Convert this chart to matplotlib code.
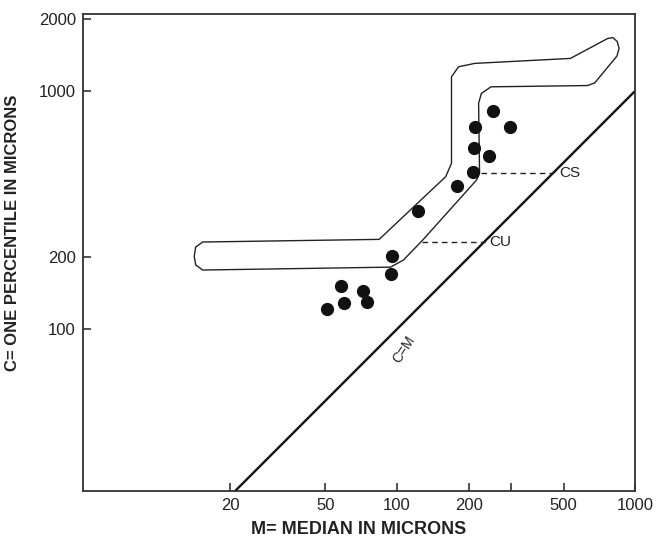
import matplotlib
matplotlib.use("Agg")
import matplotlib.pyplot as plt
from matplotlib.patches import Polygon

plt.rcParams['font.family'] = ['Liberation Sans', 'DejaVu Sans']

# samples: M = median, C = one percentile (microns)
median = [252, 212, 297, 211, 243, 208, 179, 122, 95, 94, 58, 72, 60, 75, 51]
c_pct = [820, 707, 703, 574, 534, 456, 399, 313, 202, 171, 151, 145, 129, 130, 122]

# outline of the field drawn around the samples
env_m = [15.3, 84.2, 160, 169.3, 169.3, 181.3, 212, 534, 766, 806, 840, 855, 837,
         676, 631, 248, 226, 220, 222, 216, 128.5, 106.5, 93.9, 15.3, 14.3, 14.1, 14.3]
env_c = [232, 238, 436, 496, 1145, 1261, 1303, 1367, 1658, 1671, 1608, 1506, 1398,
         1080, 1052, 1039, 975, 886, 453, 423, 237, 195, 182, 177, 186, 202, 221]

# dashed limits CU and CS (C value, M where dash starts)
cu_c, cu_m0 = 233, 127
cs_c, cs_m0 = 453, 226

xticks = [20, 50, 100, 200, 300, 500, 1000]
xlabels = ['20', '50', '100', '200', '', '500', '1000']
yticks = [100, 200, 1000, 2000]

fig = plt.figure(figsize=(6.57, 5.42), dpi=100)
ax = fig.add_axes([0.1259, 0.0947, 0.8411, 0.8795])
ax.set_xscale('log')
ax.set_yscale('log')
ax.set_xlim(4.8, 1000)
ax.set_ylim(21, 2100)

ax.add_patch(Polygon(list(zip(env_m, env_c)), closed=True, fill=False,
                     edgecolor='#222222', linewidth=1.0, joinstyle='round'))

ax.plot([1, 5000], [1, 5000], color='#111111', linewidth=1.7)
ax.plot([cu_m0, cu_c], [cu_c, cu_c], color='#222222', linewidth=1.0, linestyle=(0, (4, 3)))
ax.plot([cs_m0, cs_c], [cs_c, cs_c], color='#222222', linewidth=1.0, linestyle=(0, (4, 3)))

ax.plot(median, c_pct, 'o', color='#111111', markersize=8.5)

ax.text(cu_c * 1.05, cu_c, 'CU', fontsize=11, va='center', ha='left', color='#222222')
ax.text(cs_c * 1.06, cs_c, 'CS', fontsize=11, va='center', ha='left', color='#222222')
ax.text(107, 82, 'C=M', fontsize=10, rotation=57, ha='center', va='center', color='#222222')

ax.set_xticks(xticks)
ax.set_xticklabels(xlabels)
ax.set_yticks(yticks)
ax.set_yticklabels([str(v) for v in yticks])
ax.minorticks_off()
ax.tick_params(direction='in', length=6, width=1.1, labelsize=12, colors='#222222', pad=5)

for s in ax.spines.values():
    s.set_linewidth(1.3)
    s.set_color('#333333')

ax.set_xlabel('M= MEDIAN IN MICRONS', fontsize=13, fontweight='bold', labelpad=6, color='#222222')
ax.set_ylabel('C= ONE PERCENTILE IN MICRONS', fontsize=12, fontweight='bold', color='#222222')
ax.yaxis.set_label_coords(-0.113, 0.54)

fig.savefig('out.png', dpi=100)
